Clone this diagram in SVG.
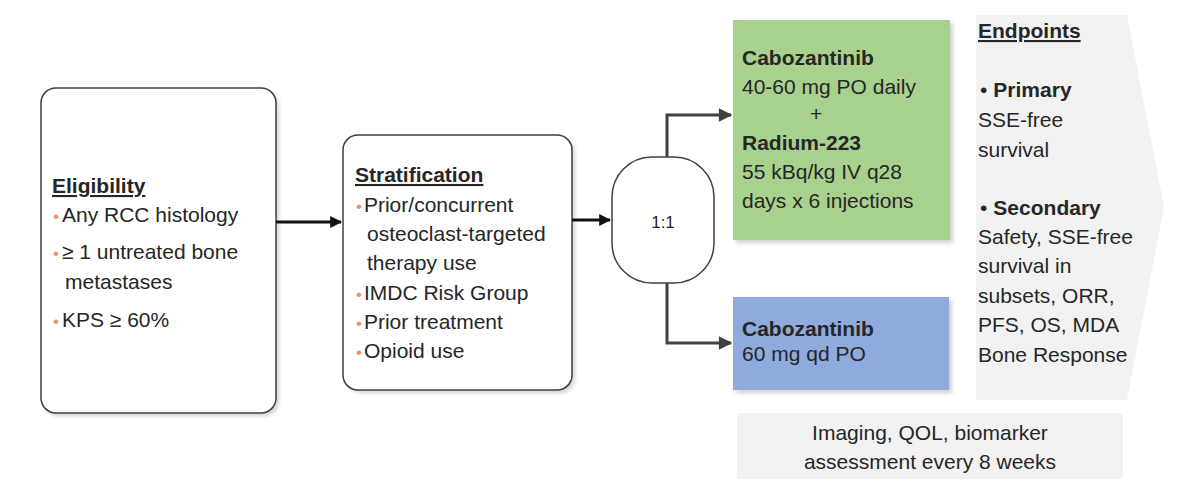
<svg xmlns="http://www.w3.org/2000/svg" width="1200" height="499" viewBox="0 0 1200 499">
<defs>
<style>
text{font-family:"Liberation Sans",Arial,sans-serif;fill:#262626;}
.t{font-size:21px;}
.b{font-weight:bold;}
.u{text-decoration:underline;}
.o{fill:#E8956A;font-size:17px;}
.box{fill:#fff;stroke:#404040;stroke-width:1.5;}
.sh{fill:#000;opacity:0.18;filter:url(#blur);}
.conn{fill:none;stroke-width:3;}
</style>
<filter id="blur" x="-10%" y="-10%" width="120%" height="120%"><feGaussianBlur stdDeviation="2"/></filter>
<marker id="ak" viewBox="0 0 10 10" refX="9" refY="5" markerWidth="4" markerHeight="4" orient="auto" markerUnits="strokeWidth"><path d="M0,0 L10,5 L0,10 z" fill="#111"/></marker>
<marker id="ag" viewBox="0 0 10 10" refX="9" refY="5" markerWidth="5.5" markerHeight="4.5" orient="auto" markerUnits="strokeWidth"><path d="M0,0 L10,5 L0,10 z" fill="#404040"/></marker>
</defs>
<rect width="1200" height="499" fill="#fff"/>

<g id="endpoints">
<path d="M976,15 L1127,15 L1164,207 L1127,400 L976,400 Z" fill="#F2F2F2"/>
<text x="978" y="38" class="t b u">Endpoints</text>
<text x="980" y="97" class="t"><tspan>•</tspan><tspan class="b" dx="6">Primary</tspan></text>
<text x="978" y="127" class="t">SSE-free</text>
<text x="978" y="157" class="t">survival</text>
<text x="980" y="215" class="t"><tspan>•</tspan><tspan class="b" dx="6">Secondary</tspan></text>
<text x="978" y="244" class="t">Safety, SSE-free</text>
<text x="978" y="273" class="t">survival in</text>
<text x="978" y="303" class="t">subsets, ORR,</text>
<text x="978" y="332" class="t">PFS, OS, MDA</text>
<text x="978" y="362" class="t">Bone Response</text>
</g>

<g id="assessment">
<rect x="737" y="413" width="386" height="66" fill="#F2F2F2"/>
<text x="930" y="440" class="t" text-anchor="middle">Imaging, QOL, biomarker</text>
<text x="930" y="469" class="t" text-anchor="middle">assessment every 8 weeks</text>
</g>

<g id="eligibility">
<rect x="44" y="91" width="235" height="325" rx="15" class="sh"/>
<rect x="41" y="88" width="235" height="325" rx="15" class="box"/>
<text x="52" y="193" class="t b u">Eligibility</text>
<text x="53" y="222" class="t"><tspan class="o">•</tspan><tspan dx="3">Any RCC histology</tspan></text>
<text x="53" y="259" class="t"><tspan class="o">•</tspan><tspan dx="3">≥ 1 untreated bone</tspan></text>
<text x="65" y="289" class="t">metastases</text>
<text x="53" y="327" class="t"><tspan class="o">•</tspan><tspan dx="3">KPS ≥ 60%</tspan></text>
</g>

<g id="stratification">
<rect x="346" y="138" width="229" height="255" rx="15" class="sh"/>
<rect x="343" y="135" width="229" height="255" rx="15" class="box"/>
<text x="355" y="182" class="t b u">Stratification</text>
<text x="356" y="212" class="t"><tspan class="o">•</tspan><tspan dx="2">Prior/concurrent</tspan></text>
<text x="367" y="241" class="t">osteoclast-targeted</text>
<text x="367" y="270" class="t">therapy use</text>
<text x="356" y="300" class="t"><tspan class="o">•</tspan><tspan dx="2">IMDC Risk Group</tspan></text>
<text x="356" y="329" class="t"><tspan class="o">•</tspan><tspan dx="2">Prior treatment</tspan></text>
<text x="356" y="358" class="t"><tspan class="o">•</tspan><tspan dx="2">Opioid use</tspan></text>
</g>

<g id="randomization">
<rect x="612" y="157" width="102" height="126" rx="40" class="box"/>
<text x="663" y="228" font-size="17" text-anchor="middle">1:1</text>
</g>

<g id="combo-arm">
<rect x="736" y="23" width="217" height="220" class="sh"/>
<rect x="733" y="20" width="217" height="220" fill="#A9D18E"/>
<text x="742" y="65" class="t b">Cabozantinib</text>
<text x="742" y="94" class="t">40-60 mg PO daily</text>
<text x="810" y="121" class="t">+</text>
<text x="742" y="150" class="t b">Radium-223</text>
<text x="742" y="179" class="t">55 kBq/kg IV q28</text>
<text x="742" y="208" class="t">days x 6 injections</text>
</g>

<g id="mono-arm">
<rect x="736" y="300" width="216" height="93" class="sh"/>
<rect x="733" y="297" width="216" height="93" fill="#8FAADC"/>
<text x="742" y="336" class="t b">Cabozantinib</text>
<text x="742" y="361" class="t">60 mg qd PO</text>
</g>

<g id="connectors">
<path d="M276,222 L341,222" class="conn" stroke="#111" marker-end="url(#ak)"/>
<path d="M572,220 L610,220" class="conn" stroke="#111" marker-end="url(#ak)"/>
<path d="M667,157 L667,115 L731,115" class="conn" stroke="#404040" marker-end="url(#ag)"/>
<path d="M667,283 L667,343 L731,343" class="conn" stroke="#404040" marker-end="url(#ag)"/>
</g>
</svg>
